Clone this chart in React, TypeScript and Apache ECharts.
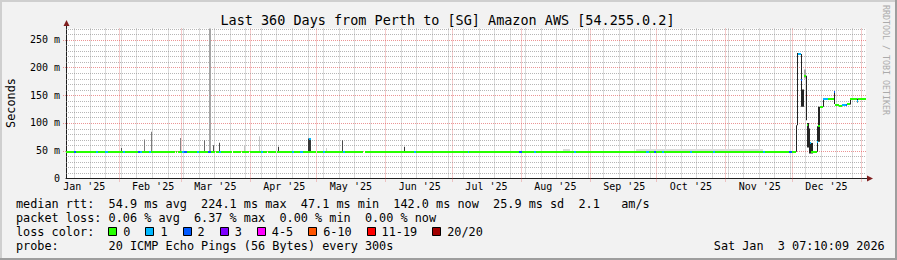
import React, { useEffect, useRef } from "react";
import * as echarts from "echarts";

// ---------- time range ----------
const START = "2025-01-08T07:10:09";
const END = "2026-01-03T07:10:09";
const Y_MAX = 270;

// ---------- axis ticks / labels ----------
const monthStarts = [
  "2025-02-01", "2025-03-01", "2025-04-01", "2025-05-01", "2025-06-01", "2025-07-01",
  "2025-08-01", "2025-09-01", "2025-10-01", "2025-11-01", "2025-12-01", "2026-01-01",
];
const monthLabelDates = [
  "2025-01-16T12:00", "2025-02-16T12:00", "2025-03-16T12:00", "2025-04-16T12:00",
  "2025-05-16T12:00", "2025-06-16T12:00", "2025-07-16T12:00", "2025-08-16T12:00",
  "2025-09-16T12:00", "2025-10-16T12:00", "2025-11-16T12:00", "2025-12-16T12:00",
];
const monthLabels = [
  "Jan '25", "Feb '25", "Mar '25", "Apr '25", "May '25", "Jun '25",
  "Jul '25", "Aug '25", "Sep '25", "Oct '25", "Nov '25", "Dec '25",
];
const firstSunday = "2025-01-12";
const yTicks = [0, 50, 100, 150, 200, 250];

// ---------- loss legend ----------
const lossLabels = ["0", "1", "2", "3", "4-5", "6-10", "11-19", "20/20"];
const lossColors = ["#26ff00", "#00b8ff", "#0059ff", "#7e00ff", "#ff00ff", "#ff5500", "#ff0000", "#a10000"];

// ---------- median rtt: [start, end, ms, loss bucket] ----------
const medianBase: [string, string, number, number][] = [
  ["2025-01-08T07:10", "2025-02-26T06:00", 48.5, 0],
  ["2025-02-26T17:00", "2025-02-27T10:00", 48.5, 0],
  ["2025-02-27T21:00", "2025-03-16T04:00", 48.5, 0],
  ["2025-03-16T15:00", "2025-03-24T00:00", 48.5, 0],
  ["2025-03-24T11:00", "2025-03-28T05:00", 48.5, 0],
  ["2025-03-28T16:00", "2025-03-31T12:00", 48.5, 0],
  ["2025-03-31T23:00", "2025-04-08T19:00", 48.5, 0],
  ["2025-04-09T06:00", "2025-04-12T21:00", 48.5, 0],
  ["2025-04-13T08:00", "2025-04-30T21:00", 48.5, 0],
  ["2025-05-01T08:00", "2025-05-21T18:00", 48.5, 0],
  ["2025-05-22T18:00", "2025-12-03T00:00", 48.5, 0],
];
const medianLoss: [string, string, number, number][] = [
  ["2025-01-11T18:00", "2025-01-13T00:00", 48.5, 2],
  ["2025-01-21T18:00", "2025-01-22T20:00", 48.5, 1],
  ["2025-01-26T00:00", "2025-01-27T04:00", 48.5, 1],
  ["2025-02-03T00:00", "2025-02-03T20:00", 48.5, 1],
  ["2025-02-09T16:00", "2025-02-10T12:00", 48.5, 2],
  ["2025-02-10T12:00", "2025-02-11T10:00", 48.5, 1],
  ["2025-02-14T18:00", "2025-02-15T18:00", 48.5, 1],
  ["2025-03-01T12:00", "2025-03-02T12:00", 48.5, 1],
  ["2025-03-02T12:00", "2025-03-03T18:00", 48.5, 2],
  ["2025-03-08T06:00", "2025-03-09T06:00", 48.5, 1],
  ["2025-03-13T06:00", "2025-03-14T12:00", 48.5, 2],
  ["2025-03-18T06:00", "2025-03-19T06:00", 48.5, 1],
  ["2025-04-06T00:00", "2025-04-07T00:00", 48.5, 1],
  ["2025-04-20T00:00", "2025-04-20T20:00", 48.5, 1],
  ["2025-04-23T12:00", "2025-04-24T20:00", 48.5, 1],
  ["2025-04-27T20:00", "2025-04-28T08:00", 72, 1],
  ["2025-05-03T18:00", "2025-05-04T18:00", 48.5, 1],
  ["2025-05-12T18:00", "2025-05-13T18:00", 48.5, 1],
  ["2025-06-14T00:00", "2025-06-14T20:00", 48.5, 1],
  ["2025-07-08T00:00", "2025-07-08T20:00", 48.5, 1],
  ["2025-07-31T06:00", "2025-08-01T12:00", 48.5, 2],
  ["2025-08-07T00:00", "2025-08-08T00:00", 48.5, 1],
  ["2025-08-25T00:00", "2025-08-26T00:00", 48.5, 1],
  ["2025-09-26T12:00", "2025-09-27T12:00", 48.5, 1],
  ["2025-09-30T00:00", "2025-09-30T20:00", 48.5, 2],
  ["2025-10-03T12:00", "2025-10-04T12:00", 48.5, 1],
  ["2025-10-16T00:00", "2025-10-17T00:00", 48.5, 1],
  ["2025-10-26T06:00", "2025-10-27T06:00", 48.5, 1],
  ["2025-11-18T00:00", "2025-11-19T00:00", 48.5, 1],
  ["2025-11-29T20:00", "2025-11-30T20:00", 48.5, 2],
];
const medianDec: [string, string, number, number][] = [
  ["2025-12-03T20:00", "2025-12-05T06:00", 224, 1],
  ["2025-12-05T06:00", "2025-12-05T16:00", 177, 2],
  ["2025-12-06T13:00", "2025-12-07T06:00", 185, 0],
  ["2025-12-07T17:00", "2025-12-08T08:00", 96, 0],
  ["2025-12-09T07:00", "2025-12-09T17:00", 64, 1],
  ["2025-12-09T17:00", "2025-12-12T09:00", 48.5, 0],
  ["2025-12-12T09:00", "2025-12-12T20:00", 66, 1],
  ["2025-12-12T20:00", "2025-12-13T10:00", 94, 0],
  ["2025-12-13T10:00", "2025-12-14T18:00", 129, 0],
  ["2025-12-14T18:00", "2025-12-17T00:00", 144, 1],
  ["2025-12-17T00:00", "2025-12-19T18:00", 144, 0],
  ["2025-12-19T18:00", "2025-12-20T04:00", 155, 2],
  ["2025-12-20T04:00", "2025-12-22T00:00", 133, 0],
  ["2025-12-22T00:00", "2025-12-23T10:00", 131, 0],
  ["2025-12-23T10:00", "2025-12-25T06:00", 133, 1],
  ["2025-12-25T06:00", "2025-12-25T17:00", 133, 2],
  ["2025-12-25T17:00", "2025-12-27T02:00", 134, 0],
  ["2025-12-27T02:00", "2025-12-30T06:00", 143.5, 0],
  ["2025-12-30T06:00", "2025-12-30T16:00", 140, 1],
  ["2025-12-30T16:00", "2026-01-03T07:10", 143.5, 0],
];

// ---------- smoke: [start, end, low ms, high ms, density 0..1] ----------
const smoke: [string, string, number, number, number][] = [
  ["2025-02-02T06:00", "2025-02-02T17:00", 48, 55, 0.7],
  ["2025-02-12T06:00", "2025-02-12T17:00", 48, 70, 0.5],
  ["2025-02-15T12:00", "2025-02-15T23:00", 48, 84, 0.5],
  ["2025-02-28T17:00", "2025-03-01T04:00", 48, 73, 0.45],
  ["2025-03-11T06:00", "2025-03-11T17:00", 48, 69, 0.6],
  ["2025-03-13T20:00", "2025-03-14T18:00", 48, 270, 0.3],
  ["2025-03-15T08:00", "2025-03-15T19:00", 48, 60, 0.7],
  ["2025-03-18T02:00", "2025-03-18T13:00", 48, 64.5, 0.75],
  ["2025-03-29T05:00", "2025-03-29T16:00", 48, 60, 0.15],
  ["2025-04-05T08:00", "2025-04-05T19:00", 48, 76, 0.15],
  ["2025-04-13T18:00", "2025-04-14T05:00", 48, 57, 0.85],
  ["2025-04-27T00:00", "2025-04-28T08:00", 48, 72, 0.85],
  ["2025-05-05T08:00", "2025-05-05T19:00", 48, 55, 0.1],
  ["2025-05-12T08:00", "2025-05-12T19:00", 48, 69, 0.75],
  ["2025-06-09T08:00", "2025-06-09T19:00", 48, 57, 0.85],
  ["2025-08-20T00:00", "2025-08-23T00:00", 49, 53, 0.05],
  ["2025-09-22T00:00", "2025-11-18T00:00", 49, 53, 0.03],
  ["2025-12-03T00:00", "2025-12-03T10:00", 48, 96, 0.95],
  ["2025-12-03T10:00", "2025-12-03T20:00", 96, 226, 0.95],
  ["2025-12-05T06:00", "2025-12-05T16:00", 129, 224, 0.95],
  ["2025-12-05T16:00", "2025-12-06T13:00", 129, 160, 0.95],
  ["2025-12-06T13:00", "2025-12-07T06:00", 180, 196, 0.3],
  ["2025-12-07T06:00", "2025-12-07T17:00", 105, 185, 0.95],
  ["2025-12-07T17:00", "2025-12-08T20:00", 56, 100, 0.95],
  ["2025-12-08T20:00", "2025-12-09T07:00", 45, 90, 0.95],
  ["2025-12-09T07:00", "2025-12-10T13:00", 45, 64, 0.95],
  ["2025-12-12T09:00", "2025-12-12T20:00", 48, 94, 0.95],
  ["2025-12-12T20:00", "2025-12-13T10:00", 66, 129, 0.95],
  ["2025-12-14T18:00", "2025-12-15T02:00", 129, 145, 0.95],
  ["2025-12-19T18:00", "2025-12-20T04:00", 134, 156, 0.95],
  ["2025-12-27T02:00", "2025-12-27T12:00", 133, 144, 0.95],
  ["2025-12-30T06:00", "2025-12-30T16:00", 137, 144, 0.95],
];

// ---------- legend texts ----------
const titleText = "Last 360 Days from Perth to [SG] Amazon AWS [54.255.0.2]";
const legendRtt = "median rtt:  54.9 ms avg  224.1 ms max  47.1 ms min  142.0 ms now  25.9 ms sd  2.1   am/s";
const legendLoss = "packet loss: 0.06 % avg  6.37 % max  0.00 % min  0.00 % now";
const legendLossColor = "loss color:";
const legendProbe = "probe:       20 ICMP Echo Pings (56 Bytes) every 300s";
const stampText = "Sat Jan  3 07:10:09 2026";
const watermark = "RRDTOOL / TOBI OETIKER";
const unitText = "Seconds";

// ---------- styles ----------
const MONO = "'DejaVu Sans Mono', monospace";
const CW = 7.12;
const LEG_FONT = `11.83px ${MONO}`;
const GRID = "rgba(143,143,143,0.65)";
const MGRID = "rgba(222,79,79,0.6)";
const AXIS = "#1f1f1f";
const ARROW = "#801f1f";

const ms = (s: string) => Date.parse(s.length <= 10 ? s + "T00:00:00Z" : s + "Z");

function wordTexts(str: string, y: number, x0 = 16) {
  const out: any[] = [];
  const re = /\S+/g;
  let m: RegExpExecArray | null;
  while ((m = re.exec(str))) {
    out.push({
      type: "text", x: x0 + m.index * CW, y, silent: true,
      style: { text: m[0], font: LEG_FONT, fill: "#000", textVerticalAlign: "middle" },
    });
  }
  return out;
}

export default function App() {
  const ref = useRef<HTMLDivElement>(null);
  useEffect(() => {
    document.body.style.margin = "0";
    if (!ref.current) return;
    const chart = echarts.init(ref.current, undefined, { renderer: "svg" });

    const t0 = ms(START);
    const t1 = ms(END);
    const monthSet = new Set(monthStarts.map(ms));
    const vGrid: [number, number][] = [];
    for (let t = ms(firstSunday); t < t1; t += 7 * 86400000) {
      if (!monthSet.has(t)) vGrid.push([t, 0]);
    }
    monthStarts.forEach((m) => { const t = ms(m); if (t < t1) vGrid.push([t, 1]); });
    const hGrid: [number, number][] = [];
    for (let v = 10; v <= Y_MAX; v += 10) hGrid.push([v, v % 50 === 0 ? 1 : 0]);

    const labelMs = monthLabelDates.map(ms);
    const medianData = [...medianBase, ...medianLoss, ...medianDec].map((d) => [ms(d[0]), ms(d[1]), d[2], d[3]]);
    const smokeData = smoke.map((d) => [ms(d[0]), ms(d[1]), d[2], d[3], d[4]]);

    const lossLegend: any[] = [];
    let bx = 108.3;
    lossLabels.forEach((lab, i) => {
      lossLegend.push({
        type: "rect", silent: true,
        shape: { x: Math.round(bx) + 0.5, y: 227.5, width: 8, height: 8 },
        style: { fill: lossColors[i], stroke: "#000", lineWidth: 1 },
      });
      lossLegend.push({
        type: "text", x: bx + 15, y: 232, silent: true,
        style: { text: lab, font: LEG_FONT, fill: "#000", textVerticalAlign: "middle" },
      });
      bx += 30 + lab.length * CW;
    });

    const option: any = {
      animation: false,
      backgroundColor: "#f2f2f2",
      grid: {
        left: 66, top: 28.5, width: 800, height: 150,
        show: true, backgroundColor: "#ffffff", borderWidth: 0,
        containLabel: false, outerBoundsMode: "none",
      },
      xAxis: {
        type: "value", min: t0, max: t1,
        splitLine: { show: false },
        axisTick: { show: false },
        axisLine: { show: true, lineStyle: { color: AXIS, width: 1 } },
        axisLabel: {
          customValues: labelMs,
          margin: 3,
          color: "#000",
          fontFamily: MONO,
          fontSize: 10,
          formatter: (v: number) => {
            const i = labelMs.findIndex((x) => Math.abs(x - v) < 3600000);
            return i >= 0 ? monthLabels[i] : "";
          },
        },
      },
      yAxis: {
        type: "value", min: 0, max: Y_MAX,
        splitLine: { show: false },
        axisTick: { show: false },
        axisLine: { show: true, lineStyle: { color: AXIS, width: 1 } },
        axisLabel: {
          customValues: yTicks,
          margin: 6,
          color: "#000",
          fontFamily: MONO,
          fontSize: 10,
          formatter: (v: number) => (v === 0 ? "0" : `${v} m`),
        },
      },
      series: [
        {
          type: "custom", name: "vgrid", z: 1, silent: true,
          data: vGrid,
          renderItem: (_p: any, api: any) => {
            const t = api.value(0);
            const major = api.value(1) === 1;
            const a = api.coord([t, Y_MAX]);
            const b = api.coord([t, 0]);
            const x = Math.round(a[0]) + 0.5;
            return {
              type: "line",
              shape: { x1: x, y1: a[1], x2: x, y2: b[1] + (major ? 3 : 0) },
              style: { stroke: major ? MGRID : GRID, lineWidth: 1, lineDash: [1, 1] },
            };
          },
        },
        {
          type: "custom", name: "hgrid", z: 1, silent: true,
          data: hGrid.map((d) => [t0, d[0], d[1]]),
          renderItem: (_p: any, api: any) => {
            const v = api.value(1);
            const major = api.value(2) === 1;
            const a = api.coord([t0, v]);
            const b = api.coord([t1, v]);
            const y = Math.round(a[1]) + 0.5;
            return {
              type: "line",
              shape: { x1: a[0] - (major ? 3 : 0), y1: y, x2: b[0], y2: y },
              style: { stroke: major ? MGRID : GRID, lineWidth: 1, lineDash: [1, 1] },
            };
          },
        },
        {
          type: "custom", name: "smoke", z: 2, silent: true,
          data: smokeData,
          renderItem: (_p: any, api: any) => {
            const a = api.coord([api.value(0), api.value(3)]);
            const b = api.coord([api.value(1), api.value(2)]);
            const g = Math.round(225 - api.value(4) * 200);
            const x = Math.round(a[0]);
            const w = Math.max(1, Math.round(b[0]) - x);
            return {
              type: "rect",
              shape: { x, y: a[1], width: w, height: Math.max(1, b[1] - a[1]) },
              style: { fill: `rgb(${g},${g},${g})` },
            };
          },
        },
        {
          type: "custom", name: "median", z: 3, silent: true,
          data: medianData,
          renderItem: (_p: any, api: any) => {
            const a = api.coord([api.value(0), api.value(2)]);
            const b = api.coord([api.value(1), api.value(2)]);
            const x = Math.round(a[0]);
            const w = Math.max(1, Math.round(b[0]) - x);
            return {
              type: "rect",
              shape: { x, y: Math.round(a[1]) - 1, width: w, height: 2 },
              style: { fill: lossColors[api.value(3)] },
            };
          },
        },
      ],
      graphic: [
        // frame
        { type: "rect", silent: true, shape: { x: 0, y: 0, width: 897, height: 2 }, style: { fill: "#cfcfcf" } },
        { type: "rect", silent: true, shape: { x: 0, y: 0, width: 2, height: 260 }, style: { fill: "#cfcfcf" } },
        { type: "rect", silent: true, shape: { x: 0, y: 258, width: 897, height: 2 }, style: { fill: "#9e9e9e" } },
        { type: "rect", silent: true, shape: { x: 895, y: 0, width: 2, height: 260 }, style: { fill: "#9e9e9e" } },
        // axis extensions and arrows
        { type: "line", silent: true, shape: { x1: 866, y1: 178.5, x2: 869, y2: 178.5 }, style: { stroke: AXIS, lineWidth: 1 } },
        { type: "line", silent: true, shape: { x1: 66.5, y1: 28.5, x2: 66.5, y2: 25 }, style: { stroke: AXIS, lineWidth: 1 } },
        { type: "polygon", silent: true, shape: { points: [[867, 175.5], [873, 178.5], [867, 181.5]] }, style: { fill: ARROW } },
        { type: "polygon", silent: true, shape: { points: [[63.5, 26], [66.5, 20], [69.5, 26]] }, style: { fill: ARROW } },
        // title
        {
          type: "text", x: 447.5, y: 19.5, silent: true,
          style: { text: titleText, font: `13.47px ${MONO}`, fill: "#000", textAlign: "center", textVerticalAlign: "middle" },
        },
        // unit
        {
          type: "text", x: 10.5, y: 103, rotation: Math.PI / 2, silent: true,
          style: { text: unitText, font: LEG_FONT, fill: "#000", textAlign: "center", textVerticalAlign: "middle" },
        },
        // watermark
        {
          type: "text", x: 885.5, y: 60, rotation: -Math.PI / 2, silent: true,
          style: { text: watermark, font: `8.3px ${MONO}`, fill: "#ababab", textAlign: "center", textVerticalAlign: "middle" },
        },
        ...wordTexts(legendRtt, 204),
        ...wordTexts(legendLoss, 218.2),
        ...wordTexts(legendLossColor, 232),
        ...lossLegend,
        ...wordTexts(legendProbe, 246),
        ...wordTexts(stampText, 246, 16 + 98 * CW),
      ],
    };
    chart.setOption(option);
    return () => chart.dispose();
  }, []);
  return <div ref={ref} style={{ width: 897, height: 260 }} />;
}
